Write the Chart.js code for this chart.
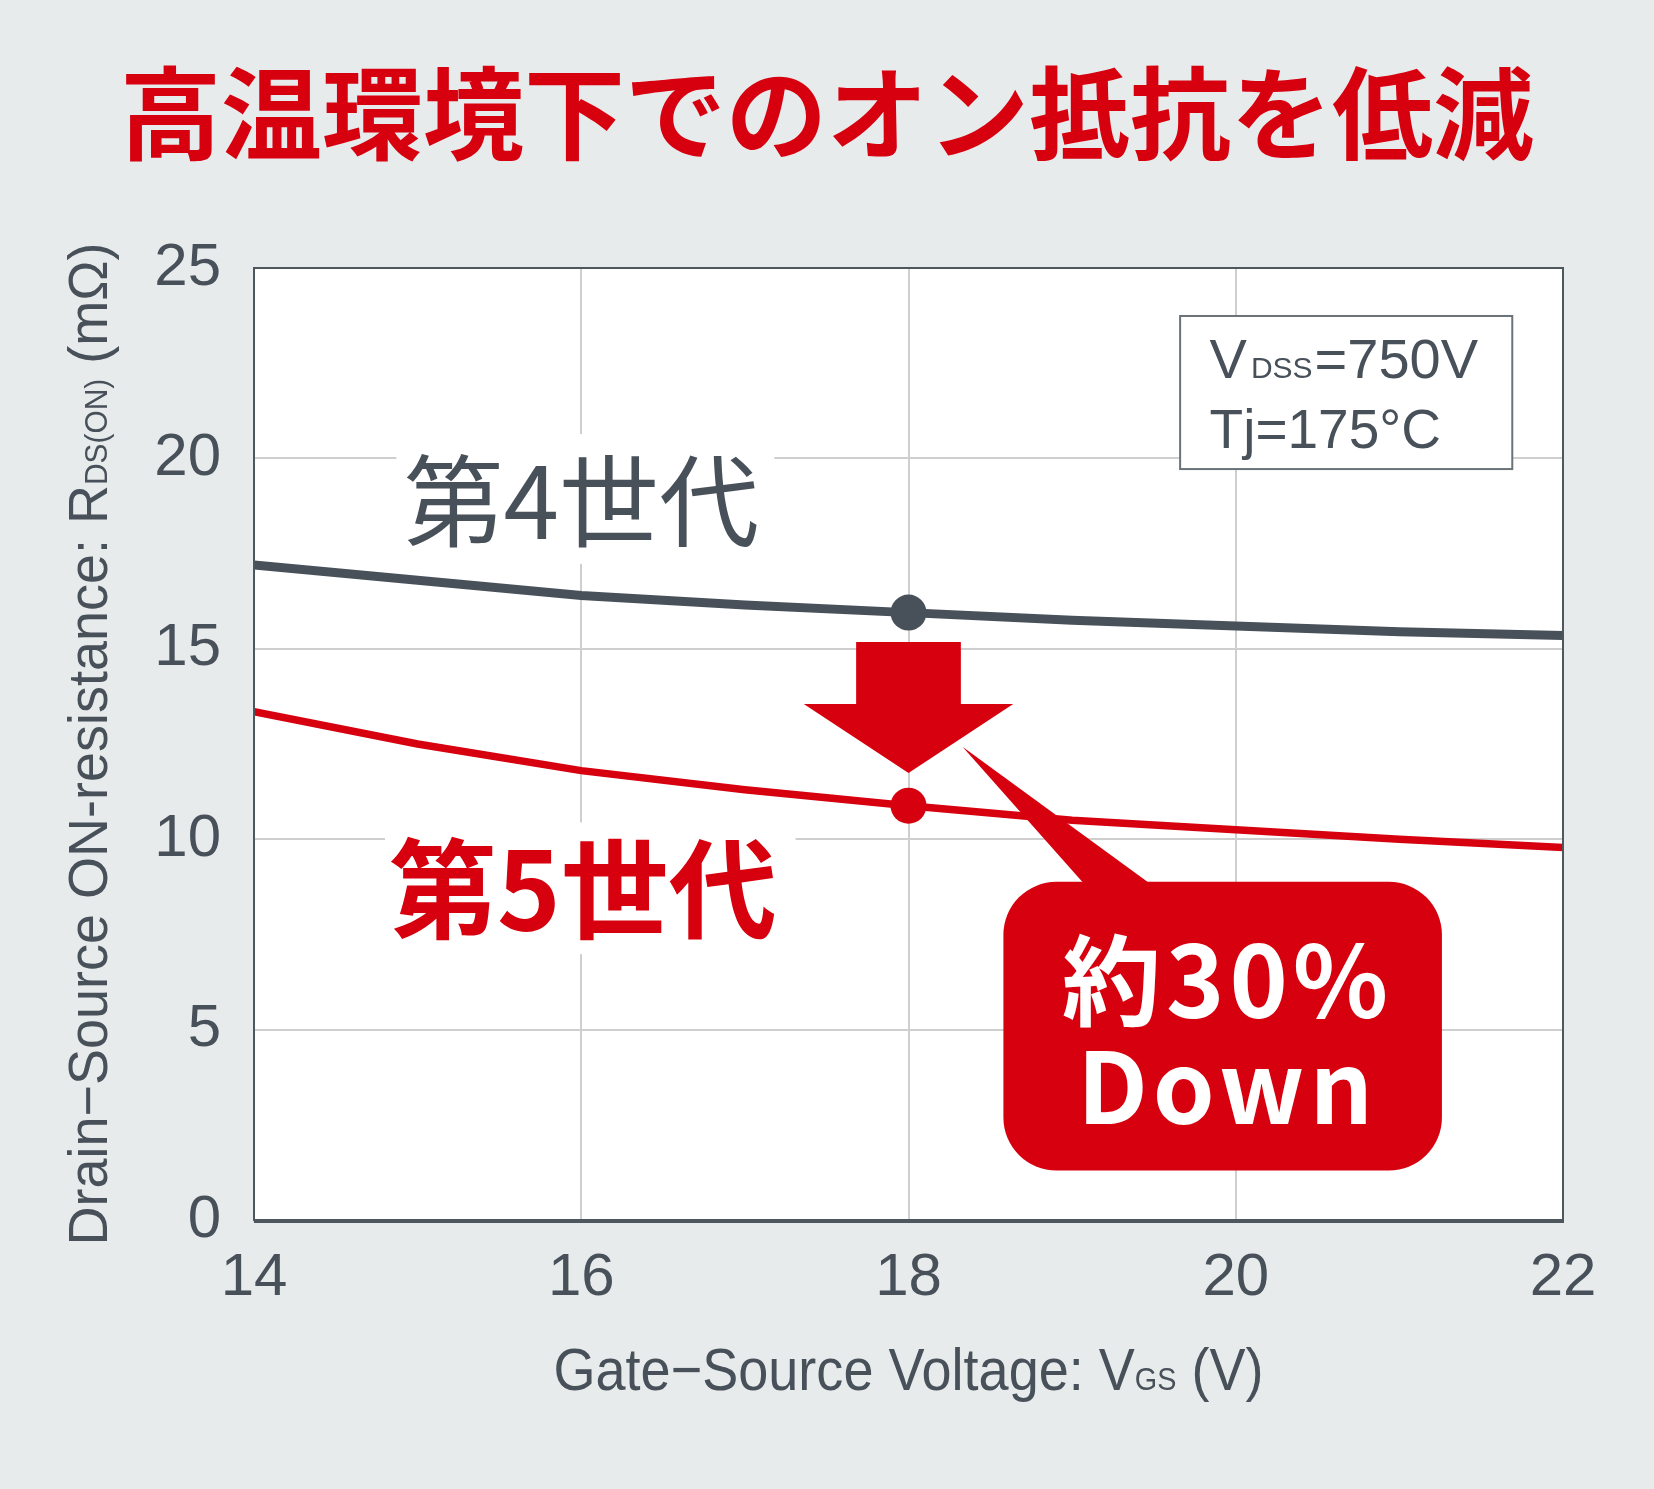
<!DOCTYPE html>
<html lang="ja">
<head>
<meta charset="utf-8">
<title>高温環境下でのオン抵抗を低減</title>
<script src="https://cdn.jsdelivr.net/npm/chart.js@4.4.1/dist/chart.umd.min.js"></script>
<style>
  html, body { margin: 0; padding: 0; background: #e8ebec; }
  #marco { width: 1654px; height: 1489px; position: relative; }
</style>
</head>
<body>
<div id="marco"><canvas id="grafica"></canvas></div>
<script>
// Datos: Vgs (V) y Rds(on) (mΩ)
const vgs = [14, 15, 16, 17, 18, 19, 20, 21, 22];
const ronGen4 = [17.2, 16.8, 16.4, 16.15, 15.95, 15.75, 15.6, 15.45, 15.35];
const ronGen5 = [13.35, 12.5, 11.8, 11.3, 10.88, 10.5, 10.25, 10.0, 9.78];
const xTicks = [14, 16, 18, 20, 22];
const yTicks = [0, 5, 10, 15, 20, 25];
const vgsMarcado = 18;

// Textos
const titulo = '高温環境下でのオン抵抗を低減';
const etiquetaGen4 = '第4世代';
const etiquetaGen5 = '第5世代';
const textoBaja = ['約30%', 'Down'];

// Colores
const tinta = '#48515a';
const rojo = '#d7000f';
const fondo = '#e8ebec';
const rejilla = '#cfcfcf';
const marcoColor = '#4f575e';
const sans = '"Liberation Sans", Arial, sans-serif';
const cjk = '"Noto Sans CJK JP", "Noto Sans", sans-serif';

Chart.defaults.font.family = sans;

// Texto con subíndices: partes = [[texto, tamaño, espacio extra], ...] sobre la misma línea base
function anchoPartes(ctx, partes) {
    let w = 0;
    partes.forEach(([t, s, e]) => { ctx.font = s + 'px ' + sans; w += ctx.measureText(t).width + (e || 0); });
    return w;
}
function dibujarPartes(ctx, partes, x, y) {
    let cx = x;
    partes.forEach(([t, s, e]) => {
        ctx.font = s + 'px ' + sans;
        ctx.fillText(t, cx, y);
        cx += ctx.measureText(t).width + (e || 0);
    });
}

const dibujo = {
    id: 'dibujo',
    beforeDraw(chart) {
        const { ctx, chartArea: a } = chart;
        ctx.save();
        ctx.fillStyle = fondo;
        ctx.fillRect(0, 0, chart.width, chart.height);
        ctx.fillStyle = '#ffffff';
        ctx.fillRect(a.left, a.top, a.right - a.left, a.bottom - a.top);
        ctx.restore();
    },
    beforeDatasetsDraw(chart) {
        const { ctx, scales: { x, y } } = chart;
        const caja = (x0, x1, y0, y1) => {
            const px0 = x.getPixelForValue(x0), px1 = x.getPixelForValue(x1);
            const py0 = y.getPixelForValue(y0), py1 = y.getPixelForValue(y1);
            return [px0, py0, px1 - px0, py1 - py0];
        };
        ctx.save();
        ctx.fillStyle = '#ffffff';
        ctx.fillRect(...caja(14.87, 17.18, 20.64, 17.23));
        ctx.fillRect(...caja(14.80, 17.31, 10.44, 6.98));
        // recuadro de condiciones
        const r = caja(19.66, 21.69, 23.74, 19.72);
        ctx.fillRect(...r);
        ctx.strokeStyle = '#6b7278';
        ctx.lineWidth = 2;
        ctx.strokeRect(...r);
        ctx.restore();
    },
    afterDatasetsDraw(chart) {
        const { ctx, chartArea: a, scales: { x, y } } = chart;
        const X = v => x.getPixelForValue(v);
        const Y = v => y.getPixelForValue(v);
        ctx.save();

        // flecha hacia abajo
        ctx.fillStyle = rojo;
        ctx.beginPath();
        ctx.moveTo(X(17.68), Y(15.18));
        ctx.lineTo(X(18.32), Y(15.18));
        ctx.lineTo(X(18.32), Y(13.55));
        ctx.lineTo(X(18.64), Y(13.55));
        ctx.lineTo(X(18), Y(11.74));
        ctx.lineTo(X(17.36), Y(13.55));
        ctx.lineTo(X(17.68), Y(13.55));
        ctx.closePath();
        ctx.fill();

        // globo "約30% Down"
        ctx.beginPath();
        ctx.roundRect(X(18.58), Y(8.88), X(21.26) - X(18.58), Y(1.30) - Y(8.88), 53);
        ctx.fill();
        ctx.beginPath();
        ctx.moveTo(X(18.33), Y(12.43));
        ctx.lineTo(X(19.55), Y(8.6));
        ctx.lineTo(X(19.12), Y(8.6));
        ctx.closePath();
        ctx.fill();

        ctx.fillStyle = '#ffffff';
        ctx.textAlign = 'center';
        ctx.textBaseline = 'middle';
        ctx.font = 'bold 99px ' + cjk;
        ctx.letterSpacing = '5px';
        ctx.fillText(textoBaja[0], X(19.95), Y(6.3));
        ctx.fillText(textoBaja[1], X(19.95), Y(3.5));
        ctx.letterSpacing = '0px';

        // etiquetas de generación
        ctx.fillStyle = tinta;
        ctx.font = '100px ' + cjk;
        ctx.fillText(etiquetaGen4, X(16.0), Y(18.88));
        ctx.fillStyle = rojo;
        ctx.font = 'bold 108px ' + cjk;
        ctx.fillText(etiquetaGen5, X(16.01), Y(8.70));

        // condiciones
        ctx.fillStyle = tinta;
        ctx.textAlign = 'left';
        ctx.textBaseline = 'alphabetic';
        dibujarPartes(ctx, [['V', 56, 4], ['DSS', 30, 2], ['=750V', 56]], X(19.84), Y(22.11));
        dibujarPartes(ctx, [['Tj=175°C', 55]], X(19.84), Y(20.27));

        // marco superior y derecho
        ctx.strokeStyle = marcoColor;
        ctx.lineWidth = 2;
        ctx.strokeRect(a.left, a.top, a.right - a.left, a.bottom - a.top);
        ctx.lineWidth = 4;
        ctx.beginPath();
        ctx.moveTo(a.left, a.bottom + 1);
        ctx.lineTo(a.right + 1, a.bottom + 1);
        ctx.stroke();
        ctx.restore();
    },
    afterDraw(chart) {
        const { ctx, chartArea: a } = chart;
        ctx.save();
        // título
        ctx.fillStyle = rojo;
        ctx.font = 'bold 101px ' + cjk;
        ctx.textAlign = 'center';
        ctx.textBaseline = 'middle';
        ctx.fillText(titulo, chart.width / 2, 114);

        // títulos de ejes (con subíndices, algo condensados)
        ctx.fillStyle = tinta;
        ctx.textAlign = 'left';
        ctx.textBaseline = 'alphabetic';
        const ejeX = [['Gate\u2212Source Voltage: V', 60], ['GS', 32], [' (V)', 60]];
        let w = anchoPartes(ctx, ejeX);
        ctx.save();
        ctx.translate((a.left + a.right) / 2, 1390);
        ctx.scale(710 / w, 1);
        dibujarPartes(ctx, ejeX, -w / 2, 0);
        ctx.restore();

        const ejeY = [['Drain\u2212Source ON-resistance: R', 56], ['DS(ON)', 31], [' (m\u03A9)', 56]];
        w = anchoPartes(ctx, ejeY);
        ctx.save();
        ctx.translate(107, (a.top + a.bottom) / 2);
        ctx.rotate(-Math.PI / 2);
        ctx.scale(1003 / w, 1);
        dibujarPartes(ctx, ejeY, -w / 2, 0);
        ctx.restore();
        ctx.restore();
    }
};

new Chart(document.getElementById('grafica'), {
    type: 'line',
    data: {
        datasets: [
            {
                label: etiquetaGen4,
                data: vgs.map((v, i) => ({ x: v, y: ronGen4[i] })),
                borderColor: tinta,
                backgroundColor: tinta,
                borderWidth: 9,
                pointRadius: c => (vgs[c.dataIndex] === vgsMarcado ? 18 : 0),
                pointBorderWidth: 0,
                pointBackgroundColor: tinta,
                tension: 0,
                fill: false
            },
            {
                label: etiquetaGen5,
                data: vgs.map((v, i) => ({ x: v, y: ronGen5[i] })),
                borderColor: rojo,
                backgroundColor: rojo,
                borderWidth: 7.5,
                pointRadius: c => (vgs[c.dataIndex] === vgsMarcado ? 18 : 0),
                pointBorderWidth: 0,
                pointBackgroundColor: rojo,
                tension: 0,
                fill: false
            }
        ]
    },
    options: {
        responsive: true,
        maintainAspectRatio: false,
        animation: false,
        layout: { padding: { top: 268, right: 91, left: 0, bottom: 0 } },
        plugins: { legend: { display: false }, tooltip: { enabled: false } },
        scales: {
            x: {
                type: 'linear',
                min: 14,
                max: 22,
                afterBuildTicks: s => { s.ticks = xTicks.map(v => ({ value: v })); },
                afterFit: s => { s.height = 269; },
                grid: { color: rejilla, lineWidth: 2, drawTicks: false },
                border: { color: marcoColor, width: 2 },
                ticks: { color: tinta, font: { size: 60 }, padding: 22, maxRotation: 0, autoSkip: false }
            },
            y: {
                min: 0,
                max: 25,
                afterBuildTicks: s => { s.ticks = yTicks.map(v => ({ value: v })); },
                afterFit: s => { s.width = 254; },
                grid: { color: rejilla, lineWidth: 2, drawTicks: false },
                border: { color: marcoColor, width: 2 },
                ticks: { color: tinta, font: { size: 60 }, padding: 33, autoSkip: false }
            }
        }
    },
    plugins: [dibujo]
});
</script>
</body>
</html>
